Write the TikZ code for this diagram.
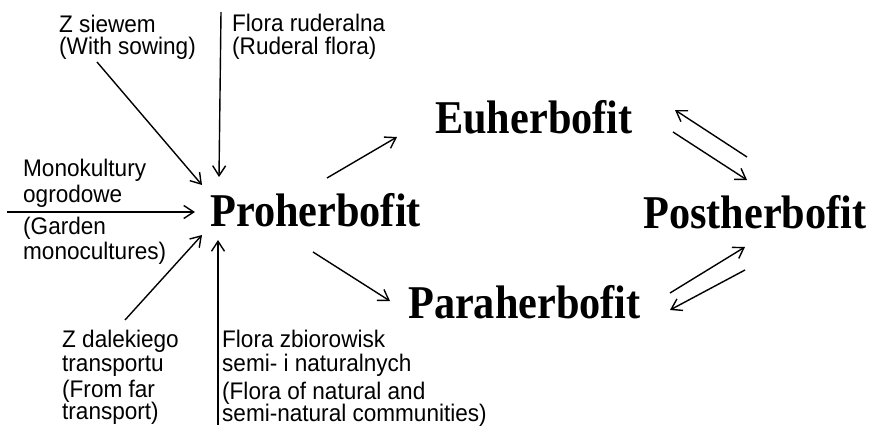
\documentclass[tikz,border=0pt]{standalone}
\usepackage{graphicx}
\usepackage{fontspec}
\setmainfont[FakeStretch=0.94]{Liberation Sans}
\newfontfamily\stagefont[Ligatures=NoCommon]{Liberation Serif}
\usetikzlibrary{arrows.meta,calc}

\newcommand{\narrowtext}[1]{\scalebox{0.9}[1]{#1}}

\begin{document}
\begin{tikzpicture}[x=1pt,y=-1pt,
    lbl/.style={anchor=north west, inner sep=0pt, align=left, font=\fontsize{24}{24}\selectfont},
    stage/.style={anchor=base west, inner sep=0pt, font=\stagefont\bfseries\fontsize{47}{50}\selectfont},
    arr/.style={line width=1.4pt, -{Straight Barb[length=10pt,width=13pt]}}
]
    \useasboundingbox (0,0) rectangle (878,444);

    % stages
    \node[stage] (pro)  at (210,226) {\narrowtext{Proherbofit}};
    \node[stage] (eu)   at (435,133) {\narrowtext{Euherbofit}};
    \node[stage] (para) at (408,318) {\narrowtext{Paraherbofit}};
    \node[stage] (post) at (643,228) {\narrowtext{Postherbofit}};

    % sources
    \node[lbl] (siewem)  at (59,15)   {Z siewem\\[-2pt](With sowing)};
    \node[lbl] (ruderal) at (232,14)  {Flora ruderalna\\[-1pt](Ruderal flora)};
    \node[lbl] (mono)    at (23,159)  {Monokultury\\[2pt]ogrodowe\\[8pt](Garden\\[1pt]monocultures)};
    \node[lbl] (dalek)   at (62,330)  {Z dalekiego\\transportu\\[2pt](From far\\[-2pt]transport)};
    \node[lbl] (zbior)   at (222,330) {Flora zbiorowisk\\semi- i naturalnych\\[4pt](Flora of natural and\\[-2pt]semi-natural communities)};

    % arrow ends
    \coordinate (siewemend)  at (97,62);
    \coordinate (ruderalend) at (221,12);
    \coordinate (monoend)    at (7,212);
    \coordinate (dalekend)   at (125,320);
    \coordinate (zbiorend)   at (218,425);
    \coordinate (proin1) at (202,185);
    \coordinate (proin2) at (219,177);
    \coordinate (proin3) at (195,212);
    \coordinate (proin4) at (202,235);
    \coordinate (proin5) at (218,240);

    % Inbound to Proherbofit
    \draw[arr] (siewemend) -- (proin1);
    \draw[arr] (ruderalend) -- (proin2);
    \draw[arr] (monoend) -- (proin3);
    \draw[arr] (dalekend) -- (proin4);
    \draw[arr] (zbiorend) -- (proin5);

    % Proherbofit outbound
    \coordinate (proeu)   at (327,178);
    \coordinate (eutip)   at (397,137);
    \coordinate (propara) at (313,252);
    \coordinate (paratip) at (390,301);
    \draw[arr] (proeu) -- (eutip);
    \draw[arr] (propara) -- (paratip);

    % Euherbofit <-> Postherbofit
    \coordinate (eupostA) at (747,157);
    \coordinate (eupostB) at (675,110);
    \coordinate (eupostC) at (673,132);
    \coordinate (eupostD) at (747,180);
    \draw[arr] (eupostA) -- (eupostB);
    \draw[arr] (eupostC) -- (eupostD);

    % Paraherbofit <-> Postherbofit
    \coordinate (parapostA) at (670,293);
    \coordinate (parapostB) at (745,247);
    \coordinate (parapostC) at (745,270);
    \coordinate (parapostD) at (670,310);
    \draw[arr] (parapostA) -- (parapostB);
    \draw[arr] (parapostC) -- (parapostD);
\end{tikzpicture}
\end{document}
